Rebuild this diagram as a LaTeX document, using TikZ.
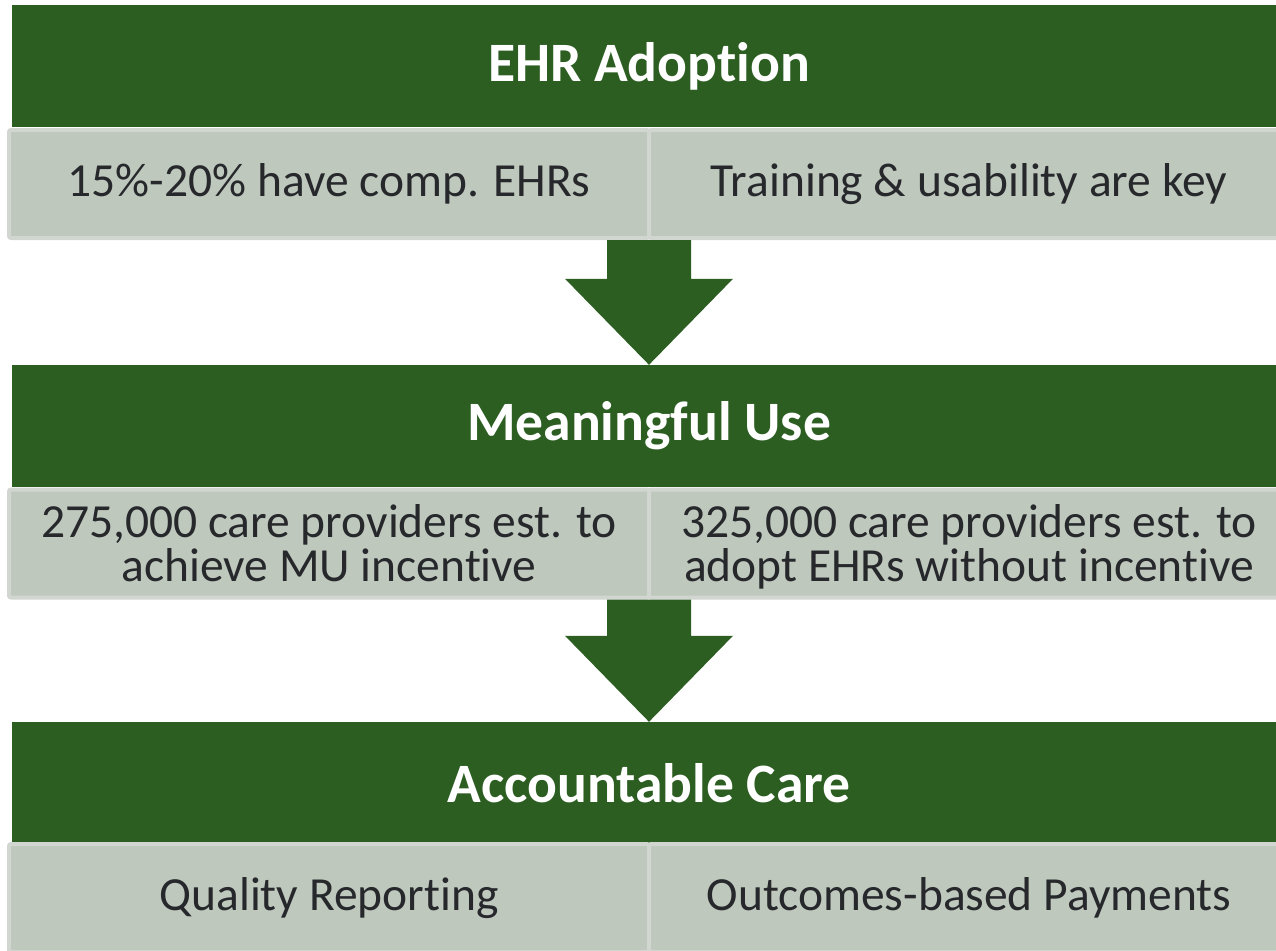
\documentclass[tikz,border=0pt]{standalone}
\usepackage{fontspec}
\setmainfont{Carlito}[RawFeature = {-liga;-clig;-calt;-dlig}]
\usetikzlibrary{calc}

\definecolor{leaf}{RGB}{44,94,34}
\definecolor{sage}{RGB}{190,200,188}
\definecolor{sageline}{RGB}{210,214,209}
\definecolor{ink}{RGB}{38,40,44}

\begin{document}
\begin{tikzpicture}[
    x = 1pt, y = -1pt,
    %
    stage/.style = {fill = leaf, text = white,
      font = \fontsize{55.6}{60}\selectfont\bfseries,
      minimum width = 1274pt, minimum height = 122pt,
      inner sep = 0pt},
    %
    cell/.style = {fill = sage, draw = sageline,
      line width = 4pt, rounded corners = 2pt,
      text = ink, align = center,
      font = \fontsize{47.5}{44}\selectfont,
      minimum width = 640pt, minimum height = 108pt,
      inner sep = 0pt},
    %
    flow/.style = {fill = leaf},
    ]

    \useasboundingbox (0, 0) rectangle (1276, 950);
    \clip (0, 0) rectangle (1276, 950);

    % stage 1
    \node at (649, 66)
    [stage, name = EHR] {EHR Adoption};
    \node at (329, 184)
    [cell, name = EHR_L] {15\%-20\% have comp. EHRs};
    \node at (969, 184)
    [cell, name = EHR_R] {Training \& usability are key};

    % stage 2
    \node at (649, 426)
    [stage, name = MU] {Meaningful Use};
    \node at (329, 543.5)
    [cell, name = MU_L, text depth = 0pt]
    {275,000 care providers est. to\\achieve MU incentive};
    \node at (969, 543.5)
    [cell, name = MU_R, text depth = 0pt]
    {325,000 care providers est. to\\adopt EHRs without incentive};

    % stage 3
    \node at (649, 783)
    [stage, name = AC] {Accountable Care};
    \node at (329, 898)
    [cell, name = AC_L] {Quality Reporting};
    \node at (969, 898)
    [cell, name = AC_R] {Outcomes-based Payments};

    \fill [flow] (EHR_L.south -| MU.north) ++(-42, 0) -- ++(84, 0)
    -- ($(MU.north) + (42, -86)$) -- ++(42, 0) -- (MU.north)
    -- ++(-84, -86) -- ++(42, 0) -- cycle;

    \fill [flow] (MU_L.south -| AC.north) ++(-42, 0) -- ++(84, 0)
    -- ($(AC.north) + (42, -86)$) -- ++(42, 0) -- (AC.north)
    -- ++(-84, -86) -- ++(42, 0) -- cycle;

  \end{tikzpicture}
\end{document}
